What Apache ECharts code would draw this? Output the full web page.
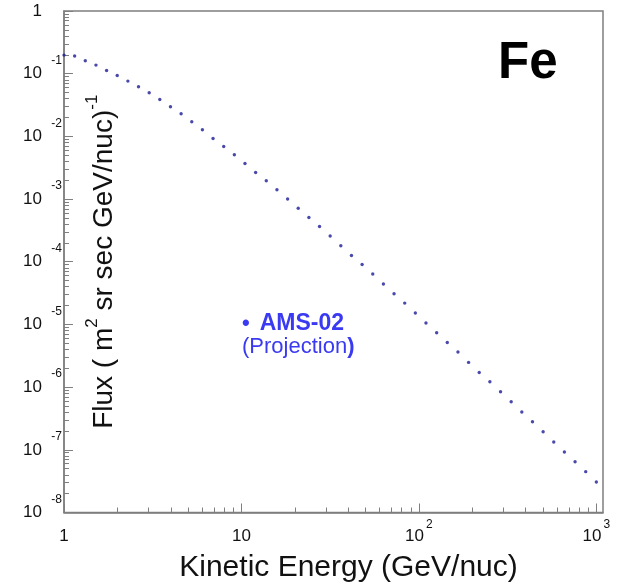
<!DOCTYPE html>
<html>
<head>
<meta charset="utf-8">
<script src="https://cdn.jsdelivr.net/npm/echarts@6/dist/echarts.min.js"></script>
<style>
html,body{margin:0;padding:0;background:#fff;}
#chart{width:635px;height:585px;}
</style>
</head>
<body>
<div id="chart"></div>
<script>
// Kinetic energy per nucleon (GeV/nuc)
var energy = [1, 1.148, 1.318, 1.514, 1.738, 1.995, 2.291, 2.630, 3.020, 3.467,
  3.981, 4.571, 5.248, 6.026, 6.918, 7.943, 9.120, 10.47, 12.02, 13.80,
  15.85, 18.20, 20.89, 23.99, 27.54, 31.62, 36.31, 41.69, 47.86, 54.95,
  63.10, 72.44, 83.18, 95.50, 109.6, 125.9, 144.5, 166.0, 190.5, 218.8,
  251.2, 288.4, 331.1, 380.2, 436.5, 501.2, 575.4, 660.7, 758.6, 871.0, 1000];
// Fe flux (m^2 sr sec GeV/nuc)^-1, AMS-02 projection
var flux = [0.198, 0.191, 0.1606, 0.1371, 0.1125, 0.0936, 0.0762, 0.0618, 0.0496, 0.0388,
  0.0297, 0.0229, 0.0171, 0.01274, 0.00927, 0.00690, 0.00509, 0.00370, 0.00266, 0.00196,
  0.001407, 0.001000, 7.13e-4, 5.09e-4, 3.66e-4, 2.57e-4, 1.80e-4, 1.259e-4, 9.05e-5, 6.37e-5,
  4.41e-5, 3.09e-5, 2.19e-5, 1.52e-5, 1.052e-5, 7.38e-6, 5.16e-6, 3.63e-6, 2.48e-6, 1.715e-6,
  1.219e-6, 8.45e-7, 5.85e-7, 4.01e-7, 2.81e-7, 1.945e-7, 1.331e-7, 9.22e-8, 6.46e-8, 4.48e-8, 3.07e-8];

var xMajorTicks = [1, 10, 100, 1000];
var yMajorTicks = [1e-8, 1e-7, 1e-6, 1e-5, 1e-4, 1e-3, 1e-2, 1e-1, 1];
var minorMantissas = [2, 3, 4, 5, 6, 7, 8, 9];

var xTitle = 'Kinetic Energy (GeV/nuc)';
var elementLabel = 'Fe';
var seriesLabel = 'AMS-02';
var seriesNote = 'Projection';

function minorTicks(majors) {
  var out = [];
  for (var i = 0; i < majors.length - 1; i++) {
    for (var j = 0; j < minorMantissas.length; j++) {
      out.push(+(majors[i] * minorMantissas[j]).toPrecision(3));
    }
  }
  return out;
}
var xMinor = minorTicks(xMajorTicks);
var yMinor = minorTicks(yMajorTicks);

var FONT = '"Liberation Sans", Arial, Helvetica, sans-serif';
var GRAY = '#7f7f7f';
var BLUE = '#3a3af2';
var X_MIN = 1, X_MAX = 1090, Y_MIN = 1e-8, Y_MAX = 1;

function expOf(v) { return Math.round(Math.log10(v)); }

var chart = echarts.init(document.getElementById('chart'), null, {renderer: 'canvas'});
var option = {
  animation: false,
  backgroundColor: '#ffffff',
  grid: {left: 64, right: 32, top: 11, bottom: 72.5, show: true, borderColor: GRAY, borderWidth: 1.5,
    backgroundColor: 'transparent', containLabel: false, outerBoundsMode: 'none'},
  xAxis: [{
    type: 'log', min: X_MIN, max: X_MAX, position: 'bottom',
    name: xTitle, nameLocation: 'middle', nameGap: 38.5,
    nameTextStyle: {fontFamily: FONT, fontSize: 30, color: '#111', lineHeight: 34, padding: [0, 0, 0, 30]},
    axisLine: {show: true, lineStyle: {color: GRAY, width: 1.5}},
    axisTick: {show: true, inside: true, length: 9, customValues: xMajorTicks, lineStyle: {color: GRAY, width: 1}},
    axisLabel: {
      show: true, customValues: xMajorTicks, margin: 6, verticalAlign: 'top',
      formatter: function (v) {
        var e = expOf(v);
        if (e === 0) return '{b|1}';
        if (e === 1) return '{b|10}';
        return '{b|10}{s|' + e + '}';
      },
      rich: {
        b: {fontFamily: FONT, fontSize: 17, color: '#111', lineHeight: 36},
        s: {fontFamily: FONT, fontSize: 12, color: '#111', lineHeight: 8, verticalAlign: 'top', padding: [0, 0, 0, 2]}
      }
    },
    splitLine: {show: false}
  }, {
    type: 'log', min: X_MIN, max: X_MAX, position: 'bottom',
    axisLine: {show: false},
    axisTick: {show: true, inside: true, length: 5, customValues: xMinor, lineStyle: {color: GRAY, width: 1}},
    axisLabel: {show: false},
    splitLine: {show: false}
  }],
  yAxis: [{
    type: 'log', min: Y_MIN, max: Y_MAX, position: 'left',
    name: '{a|Flux ( m}{s|2}{a| sr sec GeV/nuc)}{s|-1}',
    nameLocation: 'middle', nameGap: -60, nameRotate: 90,
    nameTextStyle: {
      rich: {
        a: {fontFamily: FONT, fontSize: 28, color: '#111', lineHeight: 40},
        s: {fontFamily: FONT, fontSize: 17, color: '#111', lineHeight: 18, verticalAlign: 'top'}
      }
    },
    axisLine: {show: true, lineStyle: {color: GRAY, width: 1.5}},
    axisTick: {show: true, inside: true, length: 9, customValues: yMajorTicks, lineStyle: {color: GRAY, width: 1}},
    axisLabel: {
      show: true, customValues: yMajorTicks, margin: 1,
      formatter: function (v) {
        var e = expOf(v);
        if (e === 0) return '{b|1}{g|}{s|}';
        return '{b|10}{g|}{s|' + e + '}';
      },
      rich: {
        b: {fontFamily: FONT, fontSize: 17, color: '#111', lineHeight: 38},
        g: {width: 8},
        s: {fontFamily: FONT, fontSize: 12, color: '#111', lineHeight: 12, verticalAlign: 'top', width: 13, align: 'left'}
      }
    },
    splitLine: {show: false}
  }, {
    type: 'log', min: Y_MIN, max: Y_MAX, position: 'left',
    axisLine: {show: false},
    axisTick: {show: true, inside: true, length: 5, customValues: yMinor, lineStyle: {color: GRAY, width: 1}},
    axisLabel: {show: false},
    splitLine: {show: false}
  }],
  graphic: [{
    type: 'text', left: 498, top: 38,
    style: {text: elementLabel, font: 'bold 51px ' + FONT, fill: '#000'}
  }, {
    type: 'text', left: 242, top: 312,
    style: {
      text: '{d|\u2022}{g|}{t|' + seriesLabel + '}\n{n|(' + seriesNote + '}{p|)}',
      rich: {
        d: {font: 'bold 22px ' + FONT, fill: BLUE, lineHeight: 23},
        g: {width: 10, lineHeight: 23},
        t: {font: 'bold 23px ' + FONT, fill: BLUE, lineHeight: 23},
        n: {font: '22px ' + FONT, fill: BLUE, lineHeight: 23},
        p: {font: 'bold 22px ' + FONT, fill: BLUE, lineHeight: 23}
      }
    }
  }],
  series: [{
    name: seriesLabel,
    type: 'scatter',
    xAxisIndex: 0, yAxisIndex: 0,
    symbol: 'circle', symbolSize: 3.4,
    itemStyle: {color: '#1b1b96'},
    data: energy.map(function (e, i) { return [e, flux[i]]; })
  }]
};
chart.setOption(option);
</script>
</body>
</html>
